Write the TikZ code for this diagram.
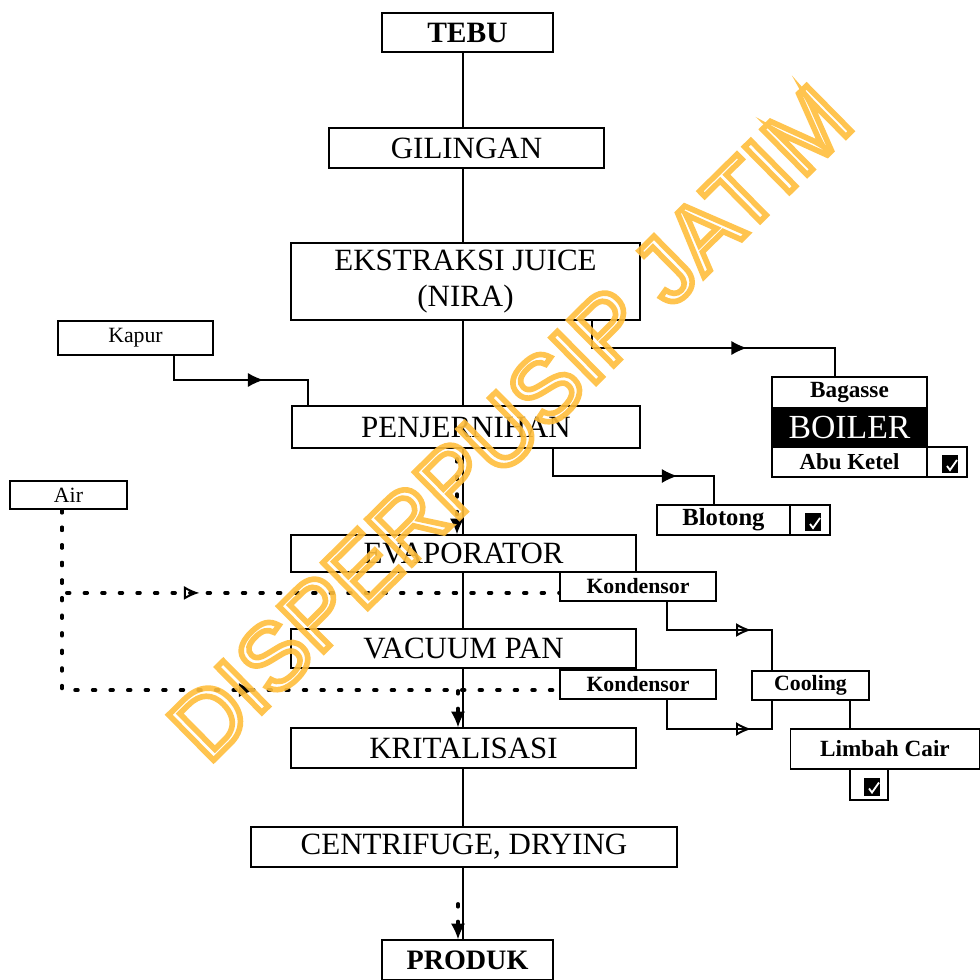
\documentclass[tikz,border=0pt]{standalone}
\usepackage{fontspec}
\setmainfont{Liberation Serif}
\newfontfamily\wmfont{Liberation Sans}
\usetikzlibrary{arrows.meta,decorations.markings}
\definecolor{wmorange}{RGB}{255,190,60}

\begin{document}
\begin{tikzpicture}[x=0.025cm, y=-0.025cm,
    box/.style={draw, fill=white, line width=1.3pt, inner sep=0pt, align=center,
        font=\fontsize{22}{26}\selectfont},
    smallbox/.style={draw, fill=white, line width=1.2pt, inner sep=0pt,
        font=\bfseries\fontsize{15.5}{17}\selectfont},
    link/.style={line width=1.2pt},
    dotline/.style={line width=2.6pt, line cap=round, dash pattern=on 2pt off 10.5pt},
    fulltip/.tip={Latex[length=11pt, width=10pt, line width=1pt]},
    hollowtip/.tip={Latex[open, length=11pt, width=10pt, line width=1.4pt]},
    midarrow/.style 2 args={postaction={decorate},
        decoration={markings, mark=at position #1 with {\arrow[solid]{#2}}}},
    checkbox/.style={draw, fill=white, line width=1.2pt, inner sep=0pt,
        minimum width=1cm, minimum height=0.75cm,
        path picture={
            \fill[black, shift={(path picture bounding box.center)}] (-5,-7) rectangle (11,11);
            \draw[white, line width=1.3pt, shift={(path picture bounding box.center)}]
                (0,4) -- (3,8) -- (10,-2);}}]

\useasboundingbox (0,0) rectangle (980,980);

% main column
\node[box, font=\bfseries\fontsize{21}{24}\selectfont, minimum width=4.275cm, minimum height=0.975cm] (tebu) at (467.5,32.5) {TEBU};
\node[box, minimum width=6.875cm, minimum height=1cm] (gilingan) at (466.5,148) {GILINGAN};
\node[box, minimum width=8.725cm, minimum height=1.925cm] (ekstraksi) at (465.5,281.5) {EKSTRAKSI JUICE\\(NIRA)};
\node[box, minimum width=8.7cm, minimum height=1.05cm] (penjernihan) at (466,427) {PENJERNIHAN};
\node[box, minimum width=8.625cm, minimum height=0.925cm] (evaporator) at (463.5,553.5) {EVAPORATOR};
\node[box, minimum width=8.625cm, minimum height=0.975cm] (vacuumpan) at (463.5,648.5) {VACUUM PAN};
\node[box, minimum width=8.625cm, minimum height=1cm] (kristal) at (463.5,748) {KRITALISASI};
\node[box, minimum width=10.65cm, minimum height=1cm] (centrifuge) at (464,847) {CENTRIFUGE, DRYING};
\node[box, font=\bfseries\fontsize{20}{24}\selectfont, minimum width=4.275cm, minimum height=1cm] (produk) at (467.5,960) {PRODUK};

% side boxes
\node[smallbox, font=\fontsize{15.5}{17}\selectfont, minimum width=3.875cm, minimum height=0.85cm] (kapur) at (135.5,338) {Kapur};
\node[smallbox, font=\fontsize{15.5}{17}\selectfont, minimum width=2.925cm, minimum height=0.7cm] (air) at (68.5,495) {Air};
\node[smallbox, font=\bfseries\fontsize{16.5}{18}\selectfont, minimum width=3.875cm, minimum height=0.775cm] (bagasse) at (849.5,392.5) {Bagasse};
\node[smallbox, fill=black, text=white, font=\fontsize{24}{26}\selectfont, minimum width=3.875cm, minimum height=0.975cm] (boiler) at (849.5,427.5) {BOILER};
\node[smallbox, font=\bfseries\fontsize{16.3}{18}\selectfont, minimum width=3.875cm, minimum height=0.75cm] (abuketel) at (849.5,462) {Abu Ketel};
\node[checkbox] (abucheck) at (947,462) {};
\node[smallbox, font=\bfseries\fontsize{17.5}{19}\selectfont, minimum width=3.325cm, minimum height=0.75cm] (blotong) at (723.5,520) {Blotong};
\node[checkbox] (blotcheck) at (810,520) {};
\node[smallbox, minimum width=3.9cm, minimum height=0.725cm] (kondA) at (638,586.5) {Kondensor};
\node[smallbox, minimum width=3.9cm, minimum height=0.725cm] (kondB) at (638,684.5) {Kondensor};
\node[smallbox, minimum width=2.925cm, minimum height=0.725cm] (cooling) at (810.5,685.5) {Cooling};
\node[smallbox, font=\bfseries\fontsize{16.5}{18}\selectfont, minimum width=4.725cm, minimum height=1cm] (limbah) at (885,749) {Limbah Cair};
\node[checkbox, minimum width=0.95cm, minimum height=0.775cm] (limbahcheck) at (869,784.5) {};

% main flow line
\foreach \a/\b in {tebu/gilingan, gilingan/ekstraksi, ekstraksi/penjernihan,
        penjernihan/evaporator, evaporator/vacuumpan, vacuumpan/kristal,
        kristal/centrifuge, centrifuge/produk}
    \draw[link] (\a.south -| 463,0) -- (\b.north -| 463,0);

\draw[dotline, -fulltip] (penjernihan.south -| 457,0) ++(0,10) -- (evaporator.north -| 457,0);
\draw[dotline, -fulltip] (vacuumpan.south -| 458,0) ++(0,22) -- (kristal.north -| 458,0);
\draw[dotline, -fulltip] (centrifuge.south -| 458,0) ++(0,36) -- (produk.north -| 458,0);

% side flows
\draw[link, midarrow={0.61}{fulltip}] (ekstraksi.south -| 592,0) |- (835,348) -- (bagasse.north -| 835,0);
\draw[link, midarrow={0.62}{fulltip}] (kapur.south -| 174,0) |- (308,380) -- (penjernihan.north -| 308,0);
\draw[link, midarrow={0.70}{fulltip}] (penjernihan.south -| 553,0) |- (714,476) -- (blotong.north -| 714,0);
\draw[link, midarrow={0.65}{hollowtip}] (kondA.south -| 667,0) |- (772,630) -- (cooling.north -| 772,0);
\draw[link, midarrow={0.70}{hollowtip}] (kondB.south -| 667,0) |- (772,729) -- (cooling.south -| 772,0);
\draw[link] (cooling.south -| 850,0) -- (limbah.north -| 850,0);

% air
\draw[dotline, midarrow={0.38}{hollowtip}] (air.south -| 62,0) |- ([yshift=-1.6mm]kondA.west);
\draw[dotline, midarrow={0.55}{fulltip}] (air.south -| 62,0) |- ([yshift=-1.4mm]kondB.west);

% watermark
\node[rotate=44.6, text=wmorange, text opacity=.9, inner sep=0pt,
    font=\wmfont\fontsize{66}{66}\selectfont] (wm) at (510,423)
    {\special{pdf:code 1 Tr 4 w}DISPERPUSIP JATIM\special{pdf:code 0 Tr}};

\end{tikzpicture}
\end{document}
